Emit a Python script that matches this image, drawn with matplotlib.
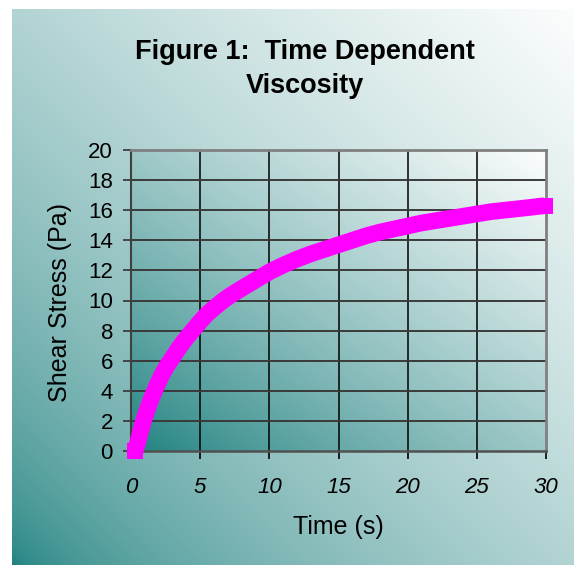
import numpy as np
import matplotlib
matplotlib.use("Agg")
import matplotlib.pyplot as plt

# ---- data ----
time_s = [0.3, 0.5, 0.7, 0.9, 1.2, 1.5, 1.8, 2.2, 2.6, 3.0, 3.5, 4.0, 4.5, 5.0,
          5.5, 6.0, 6.6, 7.2, 8.0, 9.0, 10.0, 11.0, 12.0, 13.0, 14.0, 15.0, 16.0,
          17.0, 18.0, 19.0, 20.0, 21.0, 22.0, 23.0, 24.0, 25.0, 26.0, 27.0, 28.0,
          29.0, 29.9]
shear_stress = [0.0, 0.6, 1.3, 2.0, 2.8, 3.55, 4.2, 5.0, 5.65, 6.2, 6.9, 7.5, 8.05, 8.6,
                9.1, 9.5, 9.95, 10.35, 10.8, 11.35, 11.9, 12.35, 12.75, 13.1, 13.4, 13.7,
                14.0, 14.3, 14.55, 14.75, 14.95, 15.15, 15.3, 15.45, 15.6, 15.75, 15.9,
                16.0, 16.1, 16.2, 16.3]
x_ticks = [0, 5, 10, 15, 20, 25, 30]
y_ticks = [0, 2, 4, 6, 8, 10, 12, 14, 16, 18, 20]
title_lines = ["Figure 1:  Time Dependent", "Viscosity"]
x_label = "Time (s)"
y_label = "Shear Stress (Pa)"

plt.rcParams['font.family'] = ['Liberation Sans', 'DejaVu Sans']

W, H = 574, 565
fig = plt.figure(figsize=(W / 100, H / 100), dpi=100)
fig.patch.set_facecolor('white')

teal = np.array([28, 128, 126]) / 255.0
white = np.array([252, 253, 253]) / 255.0


def gradient(n=300, gamma=1.0):
    xs = np.linspace(0, 1, n)
    X, Y = np.meshgrid(xs, xs)
    s = ((X + Y) / 2.0) ** gamma
    return teal[None, None, :] * (1 - s[..., None]) + white[None, None, :] * s[..., None]


# chart-area background
bg = fig.add_axes([12 / W, 0, 1 - 12 / W, 1 - 9 / H])
bg.imshow(gradient(gamma=0.58), origin='lower', aspect='auto', extent=(0, 1, 0, 1))
bg.set_axis_off()

# plot area
ax = fig.add_axes([131 / W, 1 - 451 / H, (546 - 131) / W, (451 - 150) / H])
ax.imshow(gradient(gamma=0.8), origin='lower', aspect='auto', extent=(0, 30, 0, 20), zorder=0)
ax.set_xlim(0, 30)
ax.set_ylim(0, 20)
ax.set_xticks(x_ticks)
ax.set_yticks(y_ticks)
ax.set_xticklabels([str(t) for t in x_ticks], fontstyle='italic', fontsize=16)
ax.set_yticklabels([str(t) for t in y_ticks], fontsize=16)
ax.tick_params(axis='x', direction='out', length=6, width=1.2, color='black', pad=13)
ax.tick_params(axis='y', direction='out', length=6, width=1.2, color='#333333', pad=7)

for xv in x_ticks[1:-1]:
    ax.axvline(xv, color='black', lw=1.1, zorder=1.5)
for yv in y_ticks[1:-1]:
    ax.axhline(yv, color='#3a3a3a', lw=1.4, zorder=1.5)

ax.spines['top'].set_color('#808080')
ax.spines['right'].set_color('#808080')
ax.spines['top'].set_linewidth(2.0)
ax.spines['right'].set_linewidth(2.0)
ax.spines['left'].set_color('#404040')
ax.spines['bottom'].set_color('#505050')
ax.spines['left'].set_linewidth(1.5)
ax.spines['bottom'].set_linewidth(1.8)

ax.plot(time_s, shear_stress, color='#FF00FF', lw=12, marker='s', markersize=12,
        markevery=[0, len(time_s) - 1], markeredgewidth=0,
        solid_joinstyle='round', solid_capstyle='butt',
        zorder=3, clip_on=False)

# titles and labels
fig.text(305 / W, 1 - 52 / H, title_lines[0], ha='center', va='center',
         fontsize=19.5, fontweight='bold')
fig.text(305 / W, 1 - 86 / H, title_lines[1], ha='center', va='center',
         fontsize=19.5, fontweight='bold')
fig.text(338 / W, 1 - 527 / H, x_label, ha='center', va='center', fontsize=18)
fig.text(60 / W, 1 - 303 / H, y_label, ha='center', va='center', rotation=90, fontsize=18)

fig.savefig('out.png', dpi=100)
